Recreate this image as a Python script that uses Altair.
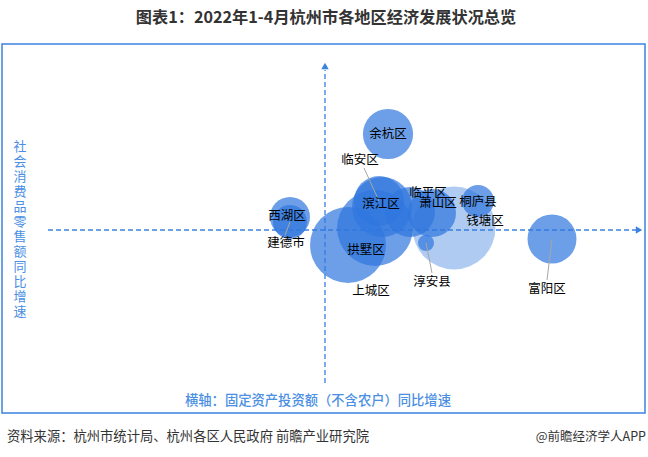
import altair as alt
import pandas as pd

# ---------------- data ----------------
districts = ["余杭区", "临安区", "西湖区", "建德市", "滨江区", "临平区", "萧山区",
             "桐庐县", "钱塘区", "拱墅区", "上城区", "淳安县", "富阳区"]
# 固定资产投资额（不含农户）同比增速 (%)
fai_growth = [6.3, 5.4, -3.5, -3.5, 5.7, 8.5, 10.7, 15.3, 12.9, 5.0, 2.3, 10.1, 22.7]
# 社会消费品零售额同比增速 (%)
retail_growth = [9.6, 2.9, 1.3, 0.8, 2.3, 1.8, 1.7, 2.9, 0.2, 0.2, -1.5, -1.3, -0.9]
# bubble size metric
bubble = [63.0, 62.5, 40.0, 28.9, 90.0, 62.5, 57.6, 25.6, 172.0, 144.0, 144.0, 6.4, 60.0]

title_text = "图表1：2022年1-4月杭州市各地区经济发展状况总览"
y_title = "社会消费品零售额同比增速"
x_title = "横轴：固定资产投资额（不含农户）同比增速"
source_text = "资料来源：杭州市统计局、杭州各区人民政府 前瞻产业研究院"
credit_text = "@前瞻经济学人APP"

# ---------------- layout config ----------------
W, H = 643, 369
PX_PER_UNIT = 10.0
X_DOMAIN = [-32.3, 32.0]
Y_DOMAIN = [-18.3, 18.6]
BLUE = "#3b82e0"
FONT = "Noto Sans CJK SC"

# label offsets in pixels (dx, dy; dy positive = downward)
label_offset = {
    "余杭区": (0, 0), "临安区": (-19, -41), "西湖区": (-3, -1), "建德市": (-4, 21),
    "滨江区": (-1, -3), "临平区": (18, -19), "萧山区": (6, -10), "桐庐县": (0, 1),
    "钱塘区": (31, -7), "拱墅区": (-9, 22), "上城区": (23, 46), "淳安县": (6, 39),
    "富阳区": (-5, 50),
}
# leader line end relative to label centre (pixels)
leader_end = {"临安区": (4, 8), "建德市": (-1, -8), "淳安县": (0, -9), "富阳区": (0, -9)}

df = pd.DataFrame({"name": districts, "x": fai_growth, "y": retail_growth, "size": bubble})
df["lx"] = [x + label_offset[n][0] / PX_PER_UNIT for n, x in zip(districts, fai_growth)]
df["ly"] = [y - label_offset[n][1] / PX_PER_UNIT for n, y in zip(districts, retail_growth)]

lead = df[df["name"].isin(leader_end.keys())].copy()
lead["ex"] = [r.lx + leader_end[r.name][0] / PX_PER_UNIT for r in lead.itertuples()]
lead["ey"] = [r.ly - leader_end[r.name][1] / PX_PER_UNIT for r in lead.itertuples()]

xs = alt.Scale(domain=X_DOMAIN, nice=False, zero=False)
ys = alt.Scale(domain=Y_DOMAIN, nice=False, zero=False)


def X(f):
    return alt.X(f, type="quantitative", scale=xs, axis=None)


def Y(f):
    return alt.Y(f, type="quantitative", scale=ys, axis=None)


# axis lines (zero lines) with arrows
hline = pd.DataFrame({"x": [-27.7], "x2": [31.1], "y": [0.0]})
vline = pd.DataFrame({"x": [0.0], "y": [-15.3], "y2": [16.0]})
arrow_up = pd.DataFrame({"x": [0.0], "y": [16.4]})
arrow_right = pd.DataFrame({"x": [31.4], "y": [0.0]})

h_rule = alt.Chart(hline).mark_rule(color=BLUE, strokeWidth=1.3, strokeDash=[5, 3]).encode(
    x=X("x"), x2="x2", y=Y("y"))
v_rule = alt.Chart(vline).mark_rule(color=BLUE, strokeWidth=1.3, strokeDash=[5, 3]).encode(
    x=X("x"), y=Y("y"), y2="y2")
a_up = alt.Chart(arrow_up).mark_point(shape="triangle-up", filled=True, size=55, color=BLUE,
                                      opacity=1).encode(x=X("x"), y=Y("y"))
a_right = alt.Chart(arrow_right).mark_point(shape="triangle-right", filled=True, size=55,
                                            color=BLUE, opacity=1).encode(x=X("x"), y=Y("y"))

bubbles = alt.Chart(df).mark_circle(color="#2f76de").encode(
    x=X("x"), y=Y("y"),
    size=alt.Size("size:Q", scale=alt.Scale(domain=[0, 100], range=[0, 4000], zero=True),
                  legend=None),
    opacity=alt.condition(alt.datum.name == "钱塘区", alt.value(0.38), alt.value(0.7)),
)

leaders = alt.Chart(lead).mark_rule(color="#a6a6a6", strokeWidth=1).encode(
    x=X("x"), y=Y("y"), x2="ex", y2="ey")

labels = alt.Chart(df).mark_text(font=FONT, fontSize=12.5, color="#000000").encode(
    x=X("lx"), y=Y("ly"), text="name:N")

# annotation texts
ann = pd.DataFrame({"t": [title_text]})
title = alt.Chart(ann).mark_text(font=FONT, fontSize=16.2, fontWeight="bold", color="#333333",
                                 align="center", baseline="middle").encode(
    x=alt.value(324), y=alt.value(-26), text=alt.value(title_text))
ytitle = alt.Chart(ann).mark_text(font=FONT, fontSize=13, color="#4a8fe3", align="center",
                                  baseline="middle", lineBreak="\n", lineHeight=15).encode(
    x=alt.value(18), y=alt.value(103), text=alt.value("\n".join(list(y_title))))
xtitle = alt.Chart(ann).mark_text(font=FONT, fontSize=13.3, fontWeight=500, color="#4a8fe3",
                                  align="center", baseline="middle").encode(
    x=alt.value(316), y=alt.value(357), text=alt.value(x_title))
src = alt.Chart(ann).mark_text(font=FONT, fontSize=13.3, color="#333333", align="left",
                               baseline="middle").encode(
    x=alt.value(5), y=alt.value(393), text=alt.value(source_text))
credit = alt.Chart(ann).mark_text(font=FONT, fontSize=12.5, color="#333333", align="right",
                                  baseline="middle").encode(
    x=alt.value(644), y=alt.value(393), text=alt.value(credit_text))

chart = alt.layer(
    h_rule, v_rule, a_up, a_right, bubbles, leaders, labels, title, ytitle, xtitle, src, credit
).properties(
    width=W, height=H,
    autosize=alt.AutoSizeParams(type="none"),
    padding={"left": 2, "top": 44, "right": 3, "bottom": 44},
    background="white",
).configure_view(stroke=BLUE, strokeWidth=1.5)

chart.save("out.html", embed_options={"renderer": "svg", "actions": False})
